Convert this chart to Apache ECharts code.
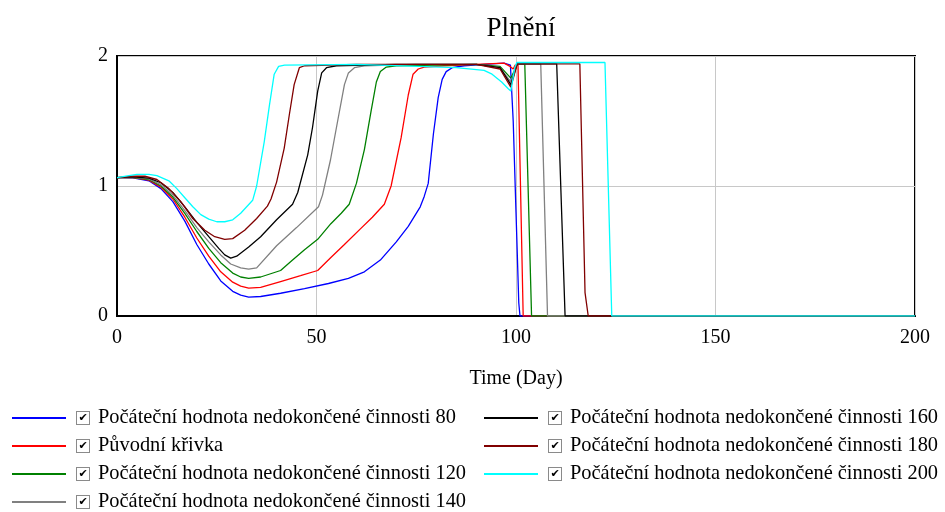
<!DOCTYPE html>
<html>
<head>
<meta charset="utf-8">
<script src="https://cdn.jsdelivr.net/npm/echarts@6/dist/echarts.min.js"></script>
<style>
  html, body { margin: 0; padding: 0; background: #fff; }
  #chart { width: 945px; height: 512px; }
</style>
</head>
<body>
<div id="chart"></div>
<script>
// Plnění – simulation runs for different initial values of unfinished work
const chartTitle = 'Plnění';
const xAxisTitle = 'Time (Day)';
const xTicks = [0, 50, 100, 150, 200];
const yTicks = [0, 1, 2];

const seriesNames = [
  'Počáteční hodnota nedokončené činnosti 80',
  'Původní křivka',
  'Počáteční hodnota nedokončené činnosti 120',
  'Počáteční hodnota nedokončené činnosti 140',
  'Počáteční hodnota nedokončené činnosti 160',
  'Počáteční hodnota nedokončené činnosti 180',
  'Počáteční hodnota nedokončené činnosti 200'
];
const seriesColors = ['#0000ff', '#ff0000', '#008000', '#808080', '#000000', '#800000', '#00ffff'];

// [day, value]
const run80 = [
  [0,1.065],[4,1.063],[8,1.04],[11,0.98],[14,0.88],[17,0.73],[20,0.55],[23,0.40],[26,0.27],
  [29,0.19],[31,0.16],[33,0.145],[36,0.15],[41,0.175],[47,0.21],[53,0.25],[58,0.29],[62,0.34],
  [66,0.43],[70,0.57],[73,0.69],[76,0.84],[77,0.92],[78,1.02],[79.3,1.4],[80.5,1.68],[81.5,1.82],
  [82.5,1.88],[84,1.91],[87,1.925],[92,1.935],[97,1.945],[98.6,1.93],[99.3,1.5],[100,0.8],
  [100.7,0.1],[101,0],[200,0]
];
const runOriginal = [
  [0,1.065],[4,1.065],[8,1.045],[11,0.99],[14,0.90],[17,0.76],[20,0.60],[23,0.46],[26,0.34],
  [29,0.26],[31,0.23],[33,0.215],[36,0.22],[41,0.265],[46,0.31],[50.3,0.35],[53.6,0.45],[57,0.55],
  [61,0.67],[64,0.76],[67,0.86],[68.7,1.0],[71.2,1.37],[73,1.7],[74.2,1.86],[75.5,1.9],[77,1.915],
  [82,1.925],[90,1.935],[97,1.945],[98.5,1.92],[99.3,1.9],[99.8,1.93],[100.5,1.93],[101.8,0],[200,0]
];
const run120 = [
  [0,1.065],[4,1.066],[8,1.05],[11,1.0],[14,0.915],[17,0.79],[20,0.65],[23,0.52],[26,0.41],
  [29,0.33],[31,0.30],[33,0.29],[36,0.30],[41,0.35],[44,0.43],[47,0.51],[50.3,0.59],[53.6,0.71],
  [56.2,0.79],[58.2,0.86],[60,1.02],[62,1.28],[63.7,1.58],[65,1.8],[66,1.88],[67.5,1.915],[70,1.925],
  [80,1.93],[90,1.935],[96,1.92],[98.7,1.83],[99.5,1.88],[100.3,1.94],[102.2,1.94],[103.9,0],[200,0]
];
const run140 = [
  [0,1.065],[4,1.068],[8,1.055],[11,1.01],[14,0.93],[17,0.81],[20,0.68],[23,0.57],[26,0.47],
  [28.5,0.40],[31,0.37],[33,0.36],[35,0.37],[40,0.54],[45,0.68],[50.5,0.84],[51.5,0.93],[53.5,1.2],
  [55.3,1.5],[57,1.78],[58,1.87],[59.5,1.91],[62,1.925],[75,1.935],[90,1.935],[96,1.91],[98.7,1.80],
  [99.5,1.87],[100.3,1.94],[106.2,1.94],[107.9,0],[200,0]
];
const run160 = [
  [0,1.065],[4,1.07],[8,1.06],[11,1.025],[14,0.95],[17,0.84],[20,0.72],[23,0.61],[25.5,0.52],
  [27,0.47],[28.5,0.445],[30,0.46],[33,0.53],[36,0.61],[40,0.74],[44,0.86],[45.3,0.95],[47.8,1.24],
  [49,1.45],[50.3,1.73],[51.3,1.87],[52.5,1.91],[55,1.925],[70,1.935],[90,1.935],[96,1.91],
  [98.7,1.78],[99.5,1.86],[100.3,1.94],[110.2,1.94],[112.3,0],[200,0]
];
const run180 = [
  [0,1.065],[4,1.075],[7,1.075],[10,1.05],[13,0.98],[16,0.88],[19,0.75],[22,0.66],[24.5,0.61],
  [27,0.59],[29,0.595],[32,0.66],[35,0.75],[37.7,0.845],[38.6,0.9],[40,1.03],[41.9,1.29],[43.2,1.55],
  [44.4,1.78],[45.7,1.91],[47,1.925],[60,1.935],[90,1.935],[96,1.9],[98.7,1.76],[99.5,1.85],
  [100.3,1.94],[116,1.94],[117.3,0.18],[118.1,0],[200,0]
];
const run200 = [
  [0,1.065],[3,1.08],[5,1.09],[8,1.09],[10,1.08],[13,1.04],[15,0.98],[17,0.91],[19,0.84],[21,0.78],
  [23,0.745],[25,0.725],[27,0.725],[29,0.74],[31,0.79],[34,0.89],[35,1.0],[36.9,1.34],[38.2,1.62],
  [39.4,1.86],[40.5,1.92],[42,1.93],[60,1.935],[85,1.91],[92,1.89],[94,1.86],[96.4,1.8],[98,1.75],
  [98.7,1.73],[99.7,1.91],[100.2,1.95],[122.3,1.95],[124,0],[200,0]
];
const runs = [run80, runOriginal, run120, run140, run160, run180, run200];

const serif = '"Liberation Serif", "Times New Roman", serif';

const legendRich = {
  s: { width: 6, fontSize: 20 },
  cb: {
    fontFamily: '"DejaVu Sans", sans-serif', fontSize: 11, fontWeight: 'bold', color: '#000',
    width: 12, height: 12, lineHeight: 12, align: 'center', verticalAlign: 'middle',
    borderColor: '#8a8a8a', borderWidth: 1, backgroundColor: '#fff'
  },
  g: { width: 9, fontSize: 20 },
  t: { fontFamily: serif, fontSize: 20.4, color: '#000' }
};
const legendFormatter = name => `{s| }{cb|✔}{g| }{t|${name}}`;
const legendBase = {
  orient: 'vertical', top: 408, padding: 0, itemGap: 8,
  icon: 'rect', itemWidth: 54, itemHeight: 2, selectedMode: false,
  formatter: legendFormatter,
  textStyle: { rich: legendRich, fontFamily: serif, fontSize: 20 }
};

const chart = echarts.init(document.getElementById('chart'), null, { renderer: 'canvas' });
chart.setOption({
  animation: false,
  backgroundColor: '#fff',
  title: {
    text: chartTitle, left: 516, top: 10, textAlign: 'center',
    textStyle: { fontFamily: serif, fontSize: 27, fontWeight: 'normal', color: '#000' }
  },
  legend: [
    Object.assign({}, legendBase, { left: 12, data: seriesNames.slice(0, 4) }),
    Object.assign({}, legendBase, { left: 484, data: seriesNames.slice(4) })
  ],
  grid: {
    left: 117, right: 30, top: 56, bottom: 196,
    show: true, borderColor: '#000', borderWidth: 2, backgroundColor: 'transparent'
  },
  xAxis: {
    type: 'value', min: xTicks[0], max: xTicks[xTicks.length - 1], interval: xTicks[1] - xTicks[0],
    name: xAxisTitle, nameLocation: 'middle', nameGap: 53,
    nameTextStyle: { fontFamily: serif, fontSize: 20, color: '#000' },
    axisLine: { show: true, lineStyle: { color: '#000', width: 2 } },
    axisTick: { show: false },
    axisLabel: { fontFamily: serif, fontSize: 20, color: '#000', margin: 12 },
    splitLine: { show: true, lineStyle: { color: '#c8c8c8', width: 1 } }
  },
  yAxis: {
    type: 'value', min: yTicks[0], max: yTicks[yTicks.length - 1], interval: yTicks[1] - yTicks[0],
    axisLine: { show: true, lineStyle: { color: '#000', width: 2 } },
    axisTick: { show: false },
    axisLabel: { fontFamily: serif, fontSize: 20, color: '#000', margin: 9 },
    splitLine: { show: true, lineStyle: { color: '#c8c8c8', width: 1 } }
  },
  series: seriesNames.map((name, i) => ({
    name: name,
    type: 'line',
    data: runs[i],
    symbol: 'none',
    showSymbol: false,
    smooth: false,
    clip: true,
    color: seriesColors[i],
    lineStyle: { color: seriesColors[i], width: 1.3 }
  }))
});
</script>
</body>
</html>
